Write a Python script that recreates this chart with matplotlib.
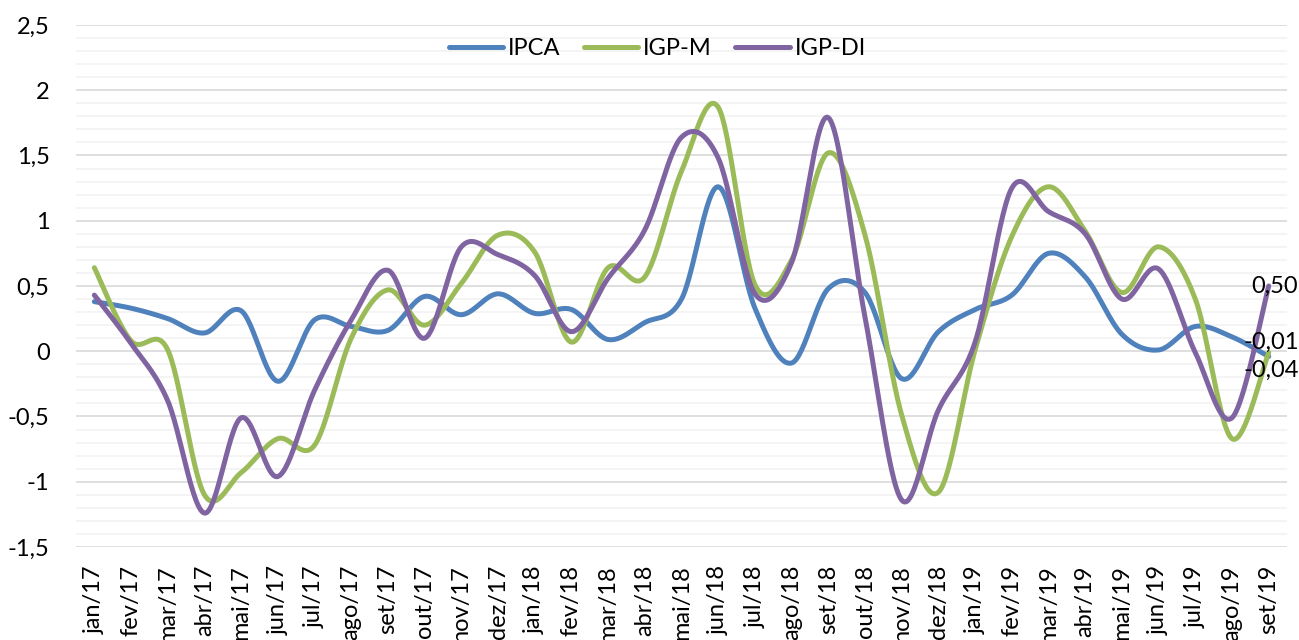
import numpy as np
import matplotlib
matplotlib.use('Agg')
import matplotlib.pyplot as plt
from matplotlib.ticker import MultipleLocator, FuncFormatter

plt.rcParams['font.family'] = ['Lato', 'DejaVu Sans']

# meses jan/17 .. set/19
meses = ['jan/17', 'fev/17', 'mar/17', 'abr/17', 'mai/17', 'jun/17', 'jul/17', 'ago/17',
         'set/17', 'out/17', 'nov/17', 'dez/17', 'jan/18', 'fev/18', 'mar/18', 'abr/18',
         'mai/18', 'jun/18', 'jul/18', 'ago/18', 'set/18', 'out/18', 'nov/18', 'dez/18',
         'jan/19', 'fev/19', 'mar/19', 'abr/19', 'mai/19', 'jun/19', 'jul/19', 'ago/19',
         'set/19']

ipca = [0.38, 0.33, 0.25, 0.14, 0.31, -0.23, 0.24, 0.19, 0.16, 0.42, 0.28, 0.44,
        0.29, 0.32, 0.09, 0.22, 0.40, 1.26, 0.33, -0.09, 0.48, 0.45, -0.21, 0.15,
        0.32, 0.43, 0.75, 0.57, 0.13, 0.01, 0.19, 0.11, -0.04]
igpm = [0.64, 0.08, 0.01, -1.10, -0.93, -0.67, -0.72, 0.10, 0.47, 0.20, 0.52, 0.89,
        0.76, 0.07, 0.64, 0.57, 1.38, 1.87, 0.51, 0.70, 1.52, 0.89, -0.49, -1.08,
        0.01, 0.88, 1.26, 0.92, 0.45, 0.80, 0.40, -0.67, -0.01]
igpdi = [0.43, 0.06, -0.38, -1.24, -0.51, -0.96, -0.30, 0.24, 0.62, 0.10, 0.80, 0.74,
         0.58, 0.15, 0.56, 0.93, 1.64, 1.48, 0.44, 0.68, 1.79, 0.26, -1.14, -0.45,
         0.07, 1.25, 1.07, 0.90, 0.40, 0.63, -0.01, -0.51, 0.50]

series = [('IPCA', ipca, '#4F81BD'), ('IGP-M', igpm, '#9BBB59'), ('IGP-DI', igpdi, '#8064A2')]


def suavizar(x, y, n=30):
    # curva suavizada tipo Excel (bezier com pontos de controle catmull-rom)
    x = np.asarray(x, float)
    y = np.asarray(y, float)
    px = np.concatenate([[x[0]], x, [x[-1]]])
    py = np.concatenate([[y[0]], y, [y[-1]]])
    t = np.linspace(0, 1, n)
    xs, ys = [], []
    for i in range(len(x) - 1):
        p0 = np.array([px[i + 1], py[i + 1]])
        p3 = np.array([px[i + 2], py[i + 2]])
        c1 = p0 + (p3 - np.array([px[i], py[i]])) / 6
        c2 = p3 - (np.array([px[i + 3], py[i + 3]]) - p0) / 6
        b = ((1 - t) ** 3)[:, None] * p0 + (3 * (1 - t) ** 2 * t)[:, None] * c1 \
            + (3 * (1 - t) * t ** 2)[:, None] * c2 + (t ** 3)[:, None] * p3
        xs.extend(b[:, 0])
        ys.extend(b[:, 1])
    return np.array(xs), np.array(ys)


fig = plt.figure(figsize=(12.99, 6.4), dpi=100)
ax = fig.add_axes([0.0585, 0.1453, 0.9323, 0.8157])

x = np.arange(len(meses))
for nome, vals, cor in series:
    sx, sy = suavizar(x, vals)
    ax.plot(sx, sy, color=cor, lw=3.6, label=nome, solid_capstyle='round', zorder=3)

ax.set_xlim(-0.5, len(meses) - 0.5)
ax.set_ylim(-1.5, 2.5)
ax.yaxis.set_major_locator(MultipleLocator(0.5))
ax.yaxis.set_minor_locator(MultipleLocator(0.1))
ax.yaxis.set_major_formatter(FuncFormatter(lambda v, p: ('%g' % v).replace('.', ',')))
ax.grid(which='major', axis='y', color='#D9D9D9', lw=1.2, zorder=0)
ax.grid(which='minor', axis='y', color='#F2F2F2', lw=1.2, zorder=0)
ax.set_xticks(x)
ax.set_xticklabels(meses, rotation=90, va='top', ha='center')
for s in ax.spines.values():
    s.set_visible(False)
ax.tick_params(axis='y', which='both', length=0, labelsize=17, pad=19)
ax.tick_params(axis='x', length=0, labelsize=17, pad=13)

# rotulos do ultimo ponto
ax.annotate('0,50', (x[-1], igpdi[-1]), xytext=(4, 0), textcoords='offset points',
            ha='center', va='center', fontsize=17)
ax.annotate('-0,01', (x[-1], igpm[-1]), xytext=(2, 7), textcoords='offset points',
            ha='center', va='center', fontsize=17)
ax.annotate('-0,04', (x[-1], ipca[-1]), xytext=(2, -10), textcoords='offset points',
            ha='center', va='center', fontsize=17)

ax.legend(loc='upper center', bbox_to_anchor=(0.48, 1.015), ncol=3, frameon=False,
          fontsize=17, handlelength=2.3, columnspacing=1.0, handletextpad=0.2)

fig.savefig('out.png', dpi=100)
